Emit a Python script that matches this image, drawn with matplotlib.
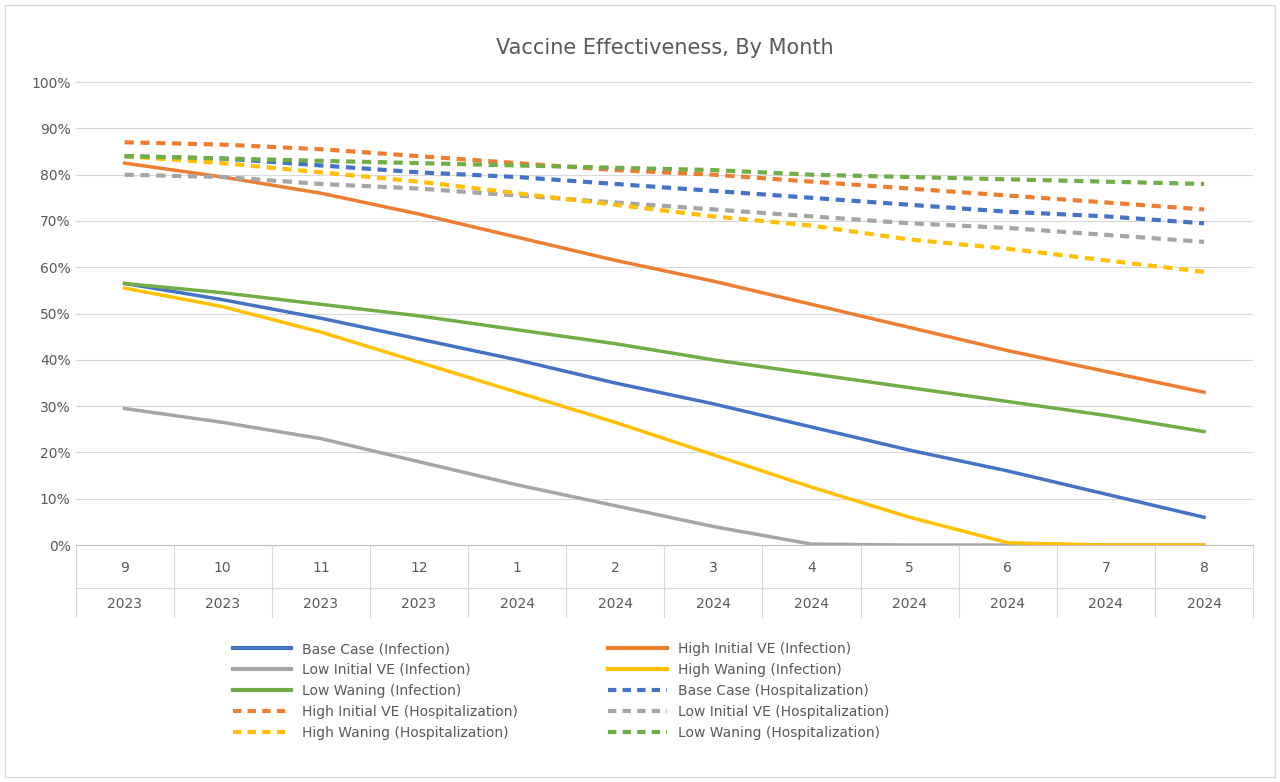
import matplotlib.pyplot as plt
from matplotlib.lines import Line2D

months = ['9', '10', '11', '12', '1', '2', '3', '4', '5', '6', '7', '8']
years = ['2023'] * 4 + ['2024'] * 8

base_inf = [56.5, 53, 49, 44.5, 40, 35, 30.5, 25.5, 20.5, 16, 11, 6]
high_init_inf = [82.5, 79.5, 76, 71.5, 66.5, 61.5, 57, 52, 47, 42, 37.5, 33]
low_init_inf = [29.5, 26.5, 23, 18, 13, 8.5, 4, 0.2, 0, 0, 0, 0]
high_wan_inf = [55.5, 51.5, 46, 39.5, 33, 26.5, 19.5, 12.5, 6, 0.5, 0, 0]
low_wan_inf = [56.5, 54.5, 52, 49.5, 46.5, 43.5, 40, 37, 34, 31, 28, 24.5]
base_hosp = [84, 83.5, 82, 80.5, 79.5, 78, 76.5, 75, 73.5, 72, 71, 69.5]
high_init_hosp = [87, 86.5, 85.5, 84, 82.5, 81, 80, 78.5, 77, 75.5, 74, 72.5]
low_init_hosp = [80, 79.5, 78, 77, 75.5, 74, 72.5, 71, 69.5, 68.5, 67, 65.5]
high_wan_hosp = [84, 82.5, 80.5, 78.5, 76, 73.5, 71, 69, 66, 64, 61.5, 59]
low_wan_hosp = [84, 83.5, 83, 82.5, 82, 81.5, 81, 80, 79.5, 79, 78.5, 78]

blue, orange, gray, gold, green = '#4472C4', '#ED7D31', '#A5A5A5', '#FFC000', '#70AD47'

series = [
    ('Base Case (Infection)', base_inf, blue, '-'),
    ('High Initial VE (Infection)', high_init_inf, orange, '-'),
    ('Low Initial VE (Infection)', low_init_inf, gray, '-'),
    ('High Waning (Infection)', high_wan_inf, gold, '-'),
    ('Low Waning (Infection)', low_wan_inf, green, '-'),
    ('Base Case (Hospitalization)', base_hosp, blue, '--'),
    ('High Initial VE (Hospitalization)', high_init_hosp, orange, '--'),
    ('Low Initial VE (Hospitalization)', low_init_hosp, gray, '--'),
    ('High Waning (Hospitalization)', high_wan_hosp, gold, '--'),
    ('Low Waning (Hospitalization)', low_wan_hosp, green, '--'),
]

fig = plt.figure(figsize=(12.8, 7.82), dpi=100)
fig.patches.append(plt.Rectangle((0.004, 0.006), 0.992, 0.988, transform=fig.transFigure,
                                 fill=False, edgecolor='#D9D9D9', lw=1))
ax = fig.add_axes([0.059, 0.303, 0.92, 0.592])

x = list(range(len(months)))
for label, vals, color, ls in series:
    if ls == '--':
        ax.plot(x, vals, color=color, lw=3, ls=(0, (2.2, 1.6)), label=label)
    else:
        ax.plot(x, vals, color=color, lw=2.5, label=label)

ax.set_xlim(-0.5, len(months) - 0.5)
ax.set_ylim(0, 100)
ax.set_yticks(range(0, 101, 10))
ax.set_yticklabels([f'{v}%' for v in range(0, 101, 10)], color='#595959', fontsize=10)
ax.grid(axis='y', color='#D9D9D9', lw=0.8)
ax.set_axisbelow(True)
for s in ['top', 'right', 'left']:
    ax.spines[s].set_visible(False)
ax.spines['bottom'].set_color('#BFBFBF')
ax.tick_params(axis='y', length=0)
ax.set_xticks([])

# multi-level category axis
for i in range(len(months)):
    ax.text(i, -5, months[i], ha='center', va='center', color='#595959', fontsize=10)
    ax.text(i, -12.8, years[i], ha='center', va='center', color='#595959', fontsize=10)
for i in range(len(months) + 1):
    ax.plot([i - 0.5, i - 0.5], [0, -15.5], color='#D9D9D9', lw=0.8, clip_on=False)
ax.plot([-0.5, len(months) - 0.5], [-9.2, -9.2], color='#D9D9D9', lw=0.8, clip_on=False)

ax.set_title('Vaccine Effectiveness, By Month', fontsize=15, color='#595959', pad=20)

# legend fills row by row, like Excel: reorder for matplotlib's column-major fill
order = [0, 2, 4, 6, 8, 1, 3, 5, 7, 9]
handles = [Line2D([0], [0], color=series[k][2], lw=3,
                  ls=('-' if series[k][3] == '-' else (0, (2, 1.5)))) for k in order]
fig.legend(handles, [series[k][0] for k in order], ncol=2, loc='upper left',
           bbox_to_anchor=(0.172, 0.195), frameon=False, fontsize=10,
           labelcolor='#595959', handlelength=4.2, columnspacing=6.5,
           labelspacing=0.5)

fig.savefig('out.png', dpi=100)
